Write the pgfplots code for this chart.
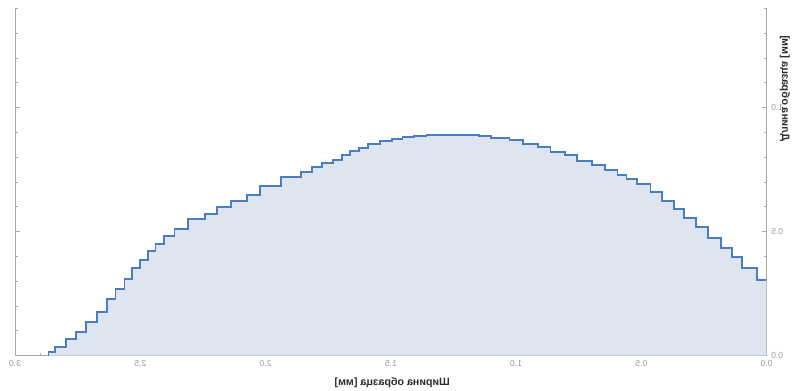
\documentclass[border=0pt]{standalone}
\usepackage{pgfplots}
\usepackage{pgfplotstable}
\pgfplotsset{compat=1.18}
\usepackage{fontspec}
\setmainfont{Liberation Sans}
\usepackage{graphicx}
\definecolor{axgray}{RGB}{178,168,163}
\definecolor{tickgray}{RGB}{150,155,165}
\definecolor{fillblue}{RGB}{222,229,240}
\definecolor{lineblue}{RGB}{74,126,196}
\definecolor{labelgray}{RGB}{45,45,45}
\pgfplotstableread{
x y
0.000 0.304
0.039 0.352
0.097 0.396
0.137 0.432
0.182 0.473
0.235 0.517
0.282 0.556
0.329 0.590
0.369 0.624
0.417 0.660
0.463 0.690
0.516 0.710
0.559 0.728
0.595 0.748
0.643 0.768
0.697 0.784
0.755 0.808
0.806 0.822
0.862 0.842
0.913 0.853
0.973 0.869
1.026 0.878
1.099 0.885
1.149 0.890
1.357 0.886
1.406 0.880
1.453 0.873
1.495 0.865
1.542 0.852
1.590 0.835
1.626 0.825
1.662 0.807
1.695 0.788
1.729 0.777
1.773 0.761
1.813 0.741
1.859 0.719
1.939 0.685
2.022 0.647
2.075 0.624
2.137 0.598
2.193 0.569
2.242 0.549
2.309 0.509
2.363 0.482
2.406 0.450
2.439 0.421
2.470 0.385
2.502 0.352
2.533 0.307
2.563 0.268
2.599 0.228
2.633 0.174
2.673 0.134
2.715 0.096
2.755 0.067
2.797 0.035
2.839 0.013
2.866 0.000
}\steps
\begin{document}
\begin{tikzpicture}
\path[use as bounding box] (-11.25pt,-25.875pt) rectangle (584.25pt,266.625pt);
\begin{axis}[
  at={(0,0)}, anchor=south west,
  scale only axis, width=563.625pt, height=260.4pt,
  x dir=reverse,
  xmin=0, xmax=3, ymin=0, ymax=1.4,
  axis x line*=bottom, axis y line*=box,
  axis line style={axgray, line width=0.6pt},
  xtick={0,0.5,1,1.5,2,2.5,3}, minor x tick num=4,
  xticklabels={0.0,0.5,1.0,1.5,2.0,2.5,3.0},
  ytick={0,0.5,1,1.5}, minor y tick num=4,
  yticklabels={0.0,0.5,1.0,1.5},
  yticklabel pos=right,
  tick style={axgray, line width=0.5pt},
  major tick length=3.5pt, minor tick length=2pt,
  tick label style={font=\fontsize{6.5}{7}\selectfont, text=tickgray},
  xticklabel style={xscale=-1},
  yticklabel style={xscale=-1, anchor=east},
  clip=false,
]
\addplot[const plot mark left, fill=fillblue, draw=none] table[x=x,y=y] {\steps} \closedcycle;
\addplot[const plot mark left, draw=lineblue, line width=1.4pt] table[x=x,y=y] {\steps};
\node[font=\fontsize{8}{9}\selectfont\bfseries, text=labelgray] at (axis cs:1.494,-0.111) {\reflectbox{Ширина образца [мм]}};
\node[rotate=90, font=\fontsize{8}{9}\selectfont\bfseries, text=labelgray] at (axis cs:-0.074,1.077) {\scalebox{1}[-1]{Длина образца [мм]}};
\end{axis}
\end{tikzpicture}
\end{document}
